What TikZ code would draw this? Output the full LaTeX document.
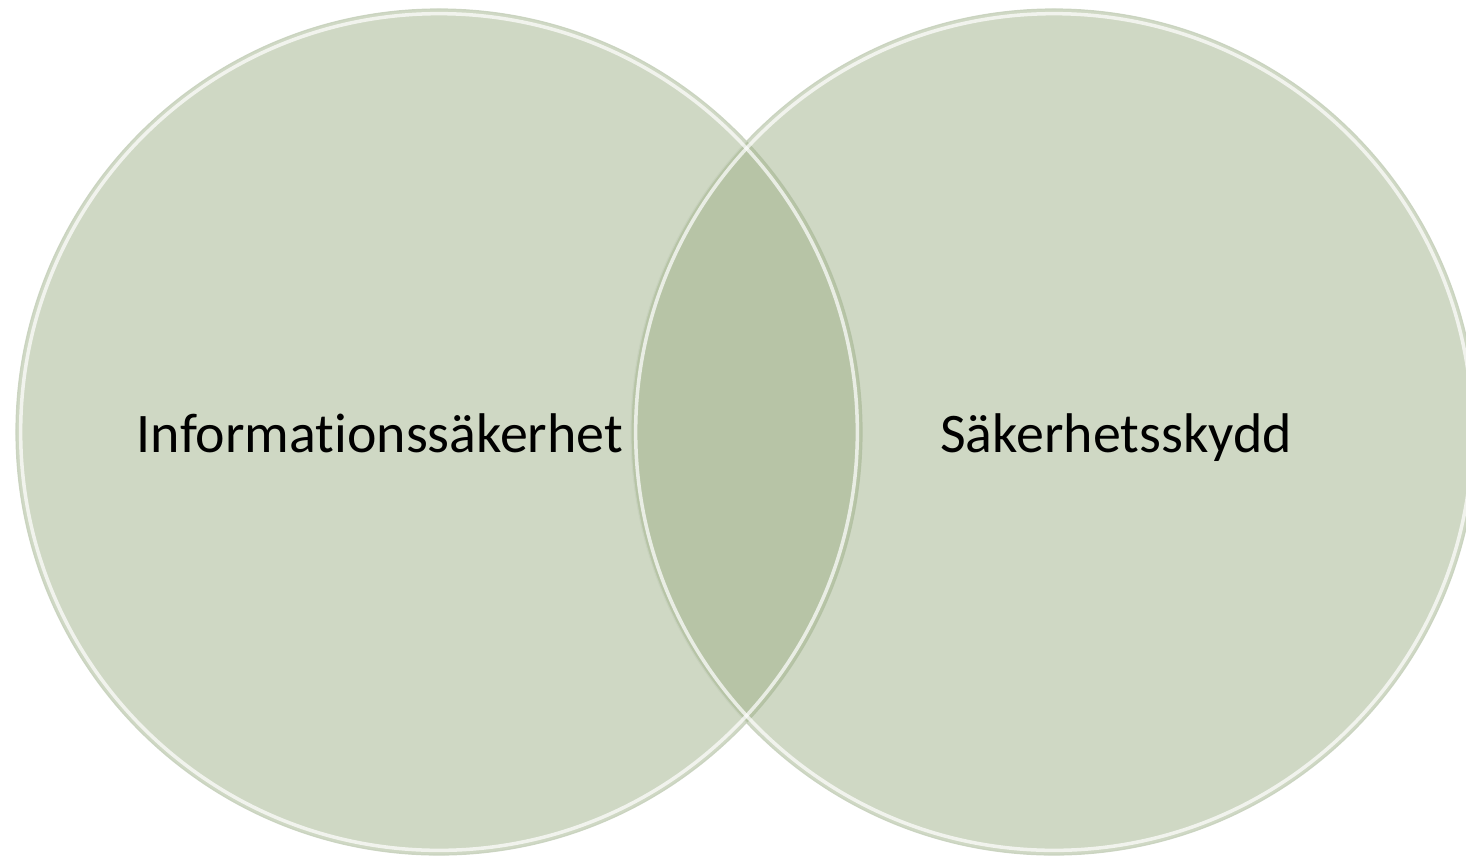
\documentclass[tikz,border=0pt]{standalone}
\usepackage{fontspec}
\setmainfont[Ligatures=NoCommon]{Carlito}
\usepackage{xcolor}
\usepackage{tikz}
\usetikzlibrary{positioning}
\definecolor{sage}{RGB}{159,177,137}
\definecolor{rim}{RGB}{200,210,190}
\tikzset{set/.style={circle,inner sep=0pt,minimum size=25.38cm,fill=sage,fill opacity=0.5,
  draw=rim,draw opacity=0.9,line width=1pt}}
\tikzset{shine/.style={circle,inner sep=0pt,minimum size=25.1cm,draw=white,draw opacity=0.7,line width=3pt}}
\tikzset{lbl/.style={inner sep=0pt,anchor=base,font=\fontsize{47.7}{56}\selectfont}}

\begin{document}
\begin{tikzpicture}[x=0.03cm,y=-0.03cm]
\useasboundingbox (0,0) rectangle (1466,856);
\node[set] (info) at (439,432) {};
\node[set] (skydd) at (1054,432) {};
\node[shine] (infoshine) at (info.center) {};
\node[shine] (skyddshine) at (skydd.center) {};
\node[lbl] (infotext) at (380,452) {Informationssäkerhet};
\node[lbl] (skyddtext) at (1116,452) {Säkerhetsskydd};
\end{tikzpicture}
\end{document}
